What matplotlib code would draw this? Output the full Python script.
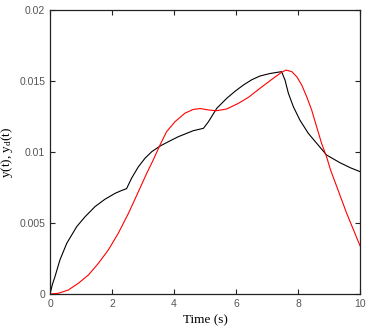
import numpy as np
import matplotlib.pyplot as plt

plt.rcParams['mathtext.fontset'] = 'custom'
plt.rcParams['mathtext.rm'] = 'Liberation Serif'
plt.rcParams['mathtext.it'] = 'Liberation Serif'

# values
t_y = [0.0, 0.08, 0.16, 0.32, 0.54, 0.86, 1.13, 1.45, 1.77, 2.1, 2.3, 2.47,
       2.63, 2.85, 3.06, 3.28, 3.55, 3.82, 4.14, 4.62, 4.95,
       5.11, 5.38, 5.7, 5.97, 6.24, 6.5, 6.77, 7.1, 7.47,
       7.58, 7.69, 7.85, 8.06, 8.33, 8.65, 8.92, 9.35, 9.7, 10.0]
y = [0.0, 0.0007, 0.00122, 0.0024, 0.00357, 0.00474, 0.00544, 0.00615,
     0.00667, 0.00709, 0.00728, 0.00742,
     0.00815, 0.00896, 0.00955, 0.01002, 0.01042, 0.01073, 0.01108, 0.0115,
     0.01167,
     0.01213, 0.01308, 0.01378, 0.01428, 0.01472, 0.01508, 0.01535, 0.01553,
     0.01566,
     0.01507, 0.01413, 0.01319, 0.01225, 0.01132, 0.01049, 0.00979, 0.00925,
     0.00888, 0.00862]

t_yd = [0.0, 0.27, 0.59, 0.91, 1.24, 1.56, 1.88, 2.2, 2.53, 2.9, 3.12,
        3.33, 3.55, 3.76, 4.03, 4.35, 4.62, 4.85, 5.11, 5.38, 5.7, 6.08,
        6.4, 6.77, 7.2, 7.47, 7.61, 7.8, 7.96, 8.12, 8.28, 8.44, 8.6, 8.76,
        8.92, 9.05, 9.25, 9.57, 10.0]
yd = [0.0, 0.00005, 0.00028, 0.00075, 0.00134, 0.00216, 0.0031, 0.00427,
      0.00568, 0.00744, 0.0085,
      0.00944, 0.0105, 0.01143, 0.01213, 0.01273, 0.013, 0.01306, 0.01296,
      0.01291, 0.01303, 0.01343,
      0.01385, 0.01448, 0.01519, 0.01561, 0.01577, 0.01566, 0.0153, 0.01472,
      0.01389, 0.01296, 0.01178, 0.01061,
      0.00967, 0.00873, 0.00756, 0.00568, 0.00340]

fig = plt.figure(figsize=(3.71, 3.35), dpi=100)
ax = fig.add_axes([0.1348, 0.1224, 0.8356, 0.8477])

ax.plot(t_y, y, '-k', linewidth=0.8)
ax.plot(t_yd, yd, '-r', linewidth=0.8)

ax.set_xlim(0, 10)
ax.set_ylim(0, 0.02)
ax.set_xticks([0, 2, 4, 6, 8, 10])
ax.set_yticks([0, 0.005, 0.01, 0.015, 0.02])
ax.set_yticklabels(['0', '0.005', '0.01', '0.015', '0.02'])

ax.tick_params(direction='in', top=True, right=True, length=3.5, width=0.8,
               labelsize=7.5, labelcolor='#555555', color='#222222')
for lab in ax.get_xticklabels() + ax.get_yticklabels():
    lab.set_fontname('Liberation Sans')
for s in ax.spines.values():
    s.set_linewidth(0.9)
    s.set_color('#222222')

fontname = 'Liberation Serif'
ax.set_xlabel('Time (s)', fontname=fontname, fontsize=9.5, labelpad=4)
ax.set_ylabel(r'y(t), y$_\mathrm{d}$(t)', fontname=fontname, fontsize=9.5,
              labelpad=3)

fig.savefig('out.png', dpi=100)
